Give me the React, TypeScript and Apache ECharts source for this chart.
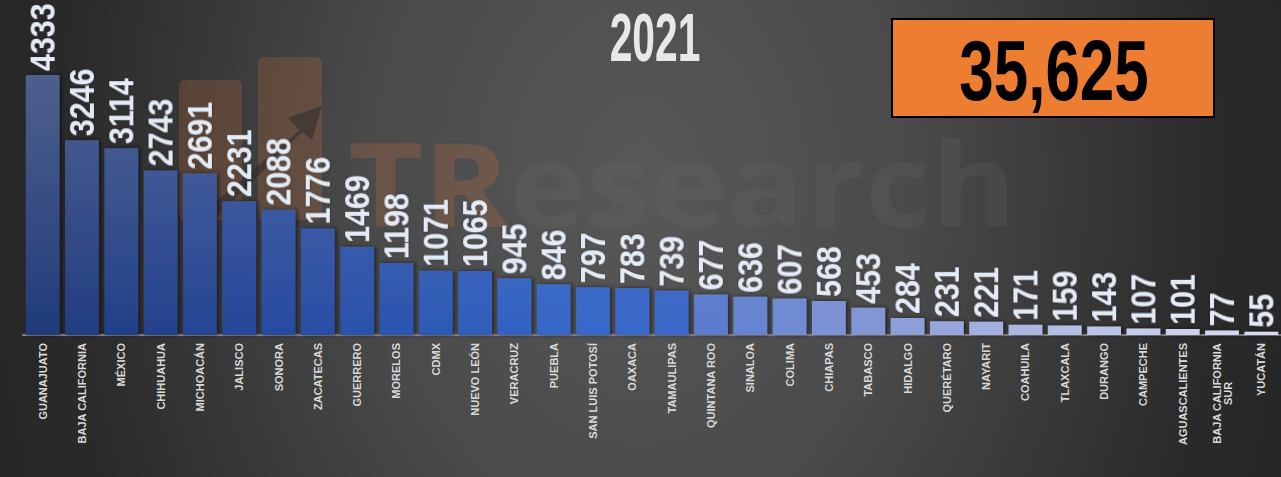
import React, { useEffect, useRef } from "react";
import * as echarts from "echarts";

const categories = [
  "GUANAJUATO", "BAJA CALIFORNIA", "MÉXICO", "CHIHUAHUA", "MICHOACÁN", "JALISCO",
  "SONORA", "ZACATECAS", "GUERRERO", "MORELOS", "CDMX", "NUEVO LEÓN", "VERACRUZ",
  "PUEBLA", "SAN LUIS POTOSÍ", "OAXACA", "TAMAULIPAS", "QUINTANA ROO", "SINALOA",
  "COLIMA", "CHIAPAS", "TABASCO", "HIDALGO", "QUERÉTARO", "NAYARIT", "COAHUILA",
  "TLAXCALA", "DURANGO", "CAMPECHE", "AGUASCALIENTES", "BAJA CALIFORNIA SUR", "YUCATÁN",
];
const values = [
  4333, 3246, 3114, 2743, 2691, 2231, 2088, 1776, 1469, 1198, 1071, 1065, 945, 846,
  797, 783, 739, 677, 636, 607, 568, 453, 284, 231, 221, 171, 159, 143, 107, 101, 77, 55,
];
const yearTitle = "2021";
const totalText = "35,625";
const watermarkText = ["TR", "esearch"];

// colour keyframes along the category index (style only)
const colorKeys: [number, string][] = [
  [0, "#203b7a"], [5, "#25479a"], [9, "#2a55b0"], [13, "#3366c8"], [16, "#3a68ca"],
  [17, "#5a7ccf"], [20, "#7b92d6"], [21, "#8196d4"], [24, "#a2b0e0"], [28, "#c3cced"],
  [31, "#d6dcf3"],
];

function hexToRgb(h: string): number[] {
  const n = parseInt(h.slice(1), 16);
  return [(n >> 16) & 255, (n >> 8) & 255, n & 255];
}
function rgbStr(c: number[]) {
  return `rgb(${c.map((v) => Math.round(v)).join(",")})`;
}
function mix(a: number[], b: number[], t: number) {
  return a.map((v, i) => v + (b[i] - v) * t);
}
function baseColor(i: number): number[] {
  for (let k = 0; k < colorKeys.length - 1; k++) {
    const [i0, c0] = colorKeys[k];
    const [i1, c1] = colorKeys[k + 1];
    if (i >= i0 && i <= i1) {
      return mix(hexToRgb(c0), hexToRgb(c1), (i - i0) / (i1 - i0 || 1));
    }
  }
  return hexToRgb(colorKeys[colorKeys.length - 1][1]);
}

const FONT = "'Liberation Sans', Arial, sans-serif";

export default function App() {
  const ref = useRef<HTMLDivElement>(null);
  useEffect(() => {
    document.body.style.margin = "0";
    if (!ref.current) return;
    const chart = echarts.init(ref.current, null, { renderer: "svg" });
    const maxV = Math.max(...values);
    const gray = [160, 160, 175];
    const data = values.map((v, i) => {
      const b = baseColor(i);
      const top = mix(b, gray, 0.36 * (v / maxV));
      return {
        value: v,
        itemStyle: {
          color: {
            type: "linear", x: 0, y: 0, x2: 0, y2: 1,
            colorStops: [
              { offset: 0, color: rgbStr(top) },
              { offset: 1, color: rgbStr(b) },
            ],
          },
        },
      };
    });
    chart.setOption({
      animation: false,
      backgroundColor: "transparent",
      grid: { left: 23, top: 35, width: 1269, height: 300, containLabel: false },
      xAxis: {
        type: "category",
        data: categories,
        axisTick: { show: false },
        axisLine: { show: true, lineStyle: { color: "#858585", width: 2 } },
        axisLabel: {
          interval: 0,
          rotate: 90,
          margin: 8,
          color: "#d9d9d9",
          fontFamily: FONT,
          fontWeight: "bold",
          fontSize: 11,
          formatter: (val: string) =>
            val === "BAJA CALIFORNIA SUR" ? "{c|BAJA CALIFORNIA}\n{c|SUR}" : val,
          rich: {
            c: {
              align: "center",
              color: "#d9d9d9",
              fontFamily: FONT,
              fontWeight: "bold",
              fontSize: 11,
              lineHeight: 11,
            },
          },
        },
      },
      yAxis: { type: "value", min: 0, max: 5000, show: false, splitLine: { show: false } },
      graphic: [
        {
          type: "rect", z: 0, silent: true,
          shape: { x: 179, y: 80, width: 63, height: 140, r: 6 },
          style: { fill: "rgba(225,120,55,0.2)" },
        },
        {
          type: "rect", z: 0, silent: true,
          shape: { x: 258, y: 57, width: 64, height: 163, r: 6 },
          style: { fill: "rgba(225,120,55,0.2)" },
        },
        {
          type: "polygon", z: 0, silent: true,
          shape: { points: [[200, 215], [300, 130], [288, 118], [322, 106], [312, 140], [302, 132], [212, 222]] },
          style: { fill: "rgba(40,40,40,0.5)" },
        },
        {
          type: "text", z: 0, silent: true, x: 348, y: 240, scaleX: 1.12,
          style: {
            text: `{a|${watermarkText[0]}}{b|${watermarkText[1]}}`,
            verticalAlign: "bottom",
            rich: {
              a: { fontSize: 116, fontWeight: "bold", fontFamily: "'Open Sans', sans-serif", fill: "rgba(225,120,55,0.2)" },
              b: { fontSize: 116, fontWeight: "bold", fontFamily: "'Open Sans', sans-serif", fill: "rgba(120,120,120,0.14)" },
            },
          },
        },
        {
          type: "text", z: 5, x: 655, y: 37, scaleX: 0.6,
          style: {
            text: yearTitle,
            fontSize: 68,
            fontWeight: "bold",
            fontFamily: FONT,
            fill: "#e8e8e8",
            align: "center",
            verticalAlign: "middle",
          },
        },
        {
          type: "rect", z: 5,
          shape: { x: 892, y: 19, width: 322, height: 98 },
          style: { fill: "#ED7D31", stroke: "#000", lineWidth: 2 },
        },
        {
          type: "text", z: 6, x: 1054, y: 70, scaleX: 0.72,
          style: {
            text: totalText,
            fontSize: 86,
            fontWeight: "bold",
            fontFamily: FONT,
            fill: "#000",
            align: "center",
            verticalAlign: "middle",
          },
        },
      ],
      series: [
        {
          type: "bar",
          data,
          barCategoryGap: "14%",
          z: 2,
          itemStyle: {
            shadowColor: "rgba(0,0,0,0.55)",
            shadowBlur: 4,
            shadowOffsetX: 2,
          },
        },
        {
          type: "custom",
          z: 4,
          silent: true,
          data: values.map((v, i) => [i, v]),
          renderItem: (params: any, api: any) => {
            const v = api.value(1);
            const p = api.coord([api.value(0), v]);
            return {
              type: "text",
              x: p[0],
              y: p[1] - 4,
              rotation: Math.PI / 2,
              scaleX: 0.87,
              style: {
                text: String(v),
                fontSize: 35,
                fontWeight: "bold",
                fontFamily: FONT,
                fill: "#e3ebf7",
                align: "left",
                verticalAlign: "middle",
                textShadowColor: "rgba(0,0,0,0.4)",
                textShadowBlur: 2,
              },
            };
          },
        },
      ],
    });
    return () => chart.dispose();
  }, []);
  return (
    <div
      ref={ref}
      style={{
        width: 1281,
        height: 477,
        background:
          "radial-gradient(ellipse 680px 900px at 640px 180px, #585858 0%, #4a4a4a 40%, #2a2a2a 85%, #262626 100%)",
      }}
    />
  );
}
